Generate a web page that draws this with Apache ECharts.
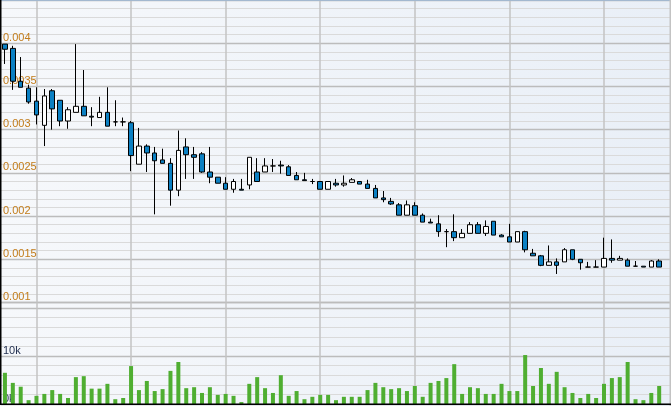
<!DOCTYPE html>
<html>
<head>
<meta charset="utf-8">
<style>
  html, body { margin: 0; padding: 0; background: #ffffff; }
  #chart { width: 671px; height: 406px; }
</style>
<script src="https://cdn.jsdelivr.net/npm/echarts@6/dist/echarts.min.js"></script>
</head>
<body>
<div id="chart"></div>
<script>
// ---- data ----
const opens  = [0.00399,0.00394,0.00356,0.00348,0.00333,0.00305,0.00345,0.00334,0.00310,0.00320,
                0.00327,0.003155,0.00314,0.00320,0.00309,0.00309,0.00308,0.00260,0.00281,0.00273,
                0.00265,0.00261,0.00230,0.00280,0.00271,0.00272,0.00251,0.00245,0.00238,0.00231,
                0.00231,0.00236,0.00251,0.00251,0.00258,0.00259,0.00257,0.00247,0.00242,0.00240,
                0.00240,0.00231,0.00238,0.00236,0.00239,0.00240,0.00237,0.00232,0.00221,0.00217,
                0.00213,0.00201,0.00212,0.00201,0.00193,0.00191,0.00182,0.00182,0.00175,0.00180,
                0.00190,0.00180,0.00194,0.00178,0.00176,0.00170,0.00182,0.00157,0.00154,0.00143,
                0.00147,0.00147,0.00161,0.00150,0.00141,0.00141,0.00141,0.00151,0.00149,0.00149,
                0.00142,0.00142,0.00141,0.00148];
const closes = [0.00393,0.00356,0.00349,0.00332,0.00317,0.00339,0.00324,0.00310,0.00323,0.00327,
                0.00316,0.003145,0.00320,0.00304,0.00309,0.00309,0.00270,0.00281,0.00273,0.00264,
                0.00261,0.00230,0.00276,0.00271,0.00268,0.00251,0.00245,0.00238,0.00231,0.00240,
                0.00230,0.00268,0.00240,0.00258,0.00258,0.00258,0.00247,0.00242,0.00241,0.00240,
                0.00231,0.00240,0.00236,0.00238,0.00242,0.00237,0.00232,0.00221,0.00219,0.00214,
                0.00201,0.00213,0.00201,0.00193,0.00192,0.00182,0.00182,0.00175,0.00180,0.00190,
                0.00180,0.00188,0.00178,0.00176,0.00170,0.00182,0.00161,0.00154,0.00143,0.00147,
                0.00143,0.00161,0.00150,0.00146,0.00141,0.00141,0.00151,0.00149,0.00151,0.00142,
                0.00142,0.00141,0.00148,0.00141];
const lows   = [0.00376,0.00346,0.00349,0.00330,0.00306,0.00281,0.00300,0.00304,0.00301,0.00320,
                0.00316,0.00304,0.00314,0.00304,0.00304,0.00304,0.00252,0.00260,0.00251,0.00202,
                0.00261,0.00212,0.00223,0.00243,0.00243,0.00250,0.00238,0.00238,0.00231,0.00227,
                0.00230,0.00231,0.00240,0.00251,0.00251,0.00249,0.00247,0.00242,0.00241,0.00237,
                0.00231,0.00231,0.00234,0.00234,0.00239,0.00237,0.00232,0.00221,0.00216,0.00213,
                0.00201,0.00201,0.00201,0.00193,0.00192,0.00176,0.00164,0.00171,0.00175,0.00180,
                0.00180,0.00177,0.00178,0.00176,0.00170,0.00170,0.00158,0.00154,0.00142,0.00143,
                0.00133,0.00147,0.00149,0.00138,0.00141,0.00141,0.00141,0.00146,0.00149,0.00142,
                0.00142,0.00141,0.00141,0.00141];
const highs  = [0.00399,0.00397,0.00384,0.00352,0.00349,0.00347,0.00347,0.00334,0.00326,0.00399,
                0.00369,0.00326,0.00338,0.00349,0.00334,0.00314,0.00310,0.00302,0.00283,0.00280,
                0.00278,0.00267,0.00299,0.00290,0.00280,0.00274,0.00280,0.00245,0.00245,0.00243,
                0.00243,0.00268,0.00267,0.00267,0.00266,0.00264,0.00259,0.00251,0.00250,0.00243,
                0.00240,0.00240,0.00243,0.00247,0.00244,0.00240,0.00242,0.00236,0.00229,0.00221,
                0.00215,0.00218,0.00216,0.00203,0.00197,0.00201,0.00185,0.00202,0.00185,0.00193,
                0.00193,0.00195,0.00194,0.00179,0.00191,0.00182,0.00183,0.00162,0.00155,0.00166,
                0.00151,0.00163,0.00161,0.00150,0.00147,0.00149,0.00175,0.00173,0.00154,0.00151,
                0.00148,0.00142,0.00149,0.00150];
const volumes = [6500,4400,3600,800,1700,2100,2900,2100,1250,5600,
                 5800,3200,3200,4200,1000,1250,7900,2900,4800,2700,
                 3100,6900,8750,3300,3500,2300,3500,1900,2100,1700,
                 400,4200,5600,3300,2300,6000,1700,2700,1000,1500,
                 1900,1900,800,1500,1500,1500,2900,4400,3500,3100,
                 3300,2700,3750,1500,4400,4800,5400,8300,2100,3500,
                 3300,2100,2100,4200,2700,2700,10200,3750,7500,4200,
                 6700,3500,2300,1250,2100,1250,4200,5400,5600,8750,
                 1000,800,2300,3750];
const priceTickLabels  = ['0.001','0.0015','0.002','0.0025','0.003','0.0035','0.004'];
const volumeTickLabels = ['0k','10k'];
const categoryCount = 85;               // last slot is empty
const categories = Array.from({length: categoryCount}, (_, i) => String(i + 1));

// ---- build ----
const candleData = opens.map((o, i) => [o, closes[i], lows[i], highs[i]]);
const vSplit = (idx) => (idx - 4) % 12 === 0;

const labelFont = { fontFamily: 'Liberation Sans, Arial, sans-serif', fontSize: 11 };

function xAxisFor(gi) {
  return {
    type: 'category', gridIndex: gi, data: categories, boundaryGap: true,
    axisLine: { show: false }, axisTick: { show: false }, axisLabel: { show: false },
    splitLine: { show: true, interval: vSplit, alignWithLabel: true,
                 lineStyle: { color: '#c3c3c3', width: 1.5 } }
  };
}

const chart = echarts.init(document.getElementById('chart'), null, { renderer: 'canvas' });
chart.setOption({
  animation: false,
  backgroundColor: { type: 'linear', x: 0, y: 0, x2: 1, y2: 0,
    colorStops: [{ offset: 0, color: '#f6f8fb' }, { offset: 1, color: '#e9eff7' }] },
  grid: [
    { left: 0, right: 0, top: 0, bottom: 103.5 },
    { left: 0, right: 0, top: 302.5, bottom: 2 }
  ],
  xAxis: [xAxisFor(0), xAxisFor(1)],
  yAxis: [
    { type: 'value', gridIndex: 0, position: 'right', min: 0.001, max: 0.0045, interval: 0.0001,
      axisLine: { show: false }, axisTick: { show: false }, axisLabel: { show: false },
      splitLine: { show: true, lineStyle: { color: '#dadada', width: 1 } } },
    { type: 'value', gridIndex: 0, position: 'left', min: 0.001, max: 0.0045, interval: 0.0005,
      axisLine: { show: false }, axisTick: { show: false },
      axisLabel: Object.assign({ inside: true, margin: 2, color: '#c27c1a', verticalAlign: 'bottom',
        formatter: (v) => priceTickLabels[Math.round((v - 0.001) / 0.0005)] || '' }, labelFont),
      splitLine: { show: true, lineStyle: { color: '#bcbcbc', width: 1.3 } } },
    { type: 'value', gridIndex: 1, position: 'right', min: 0, max: 21146, interval: 2000,
      axisLine: { show: false }, axisTick: { show: false }, axisLabel: { show: false },
      splitLine: { show: true, lineStyle: { color: '#dadada', width: 1 } } },
    { type: 'value', gridIndex: 1, position: 'left', min: 0, max: 21146, interval: 10000,
      axisLine: { show: false }, axisTick: { show: false },
      axisLabel: Object.assign({ inside: true, margin: 2, color: '#1f2d4d', verticalAlign: 'bottom',
        formatter: (v) => (v % 10000 === 0 ? (volumeTickLabels[v / 10000] || '') : '') }, labelFont),
      splitLine: { show: true, lineStyle: { color: '#bcbcbc', width: 1.3 } } }
  ],
  series: [
    { type: 'candlestick', xAxisIndex: 0, yAxisIndex: 1, data: candleData, barWidth: 5,
      itemStyle: { color: '#ffffff', color0: '#0b80c3', borderColor: '#000000', borderColor0: '#000000', borderWidth: 1 } },
    { type: 'bar', xAxisIndex: 1, yAxisIndex: 3, data: volumes, barWidth: 4,
      itemStyle: { color: '#4fae31' } }
  ],
  graphic: [
    { type: 'rect', shape: { x: 0, y: 0, width: 671, height: 1 }, style: { fill: '#a3b8cf' }, z: 100 },
    { type: 'rect', shape: { x: 669.5, y: 0, width: 1.5, height: 406 }, style: { fill: '#c3c3c3' }, z: 100 },
    { type: 'rect', shape: { x: 0, y: 0, width: 1.5, height: 405 }, style: { fill: '#000000' }, z: 100 },
    { type: 'rect', shape: { x: 0, y: 403.5, width: 671, height: 1.5 }, style: { fill: '#000000' }, z: 100 }
  ]
});
</script>
</body>
</html>
